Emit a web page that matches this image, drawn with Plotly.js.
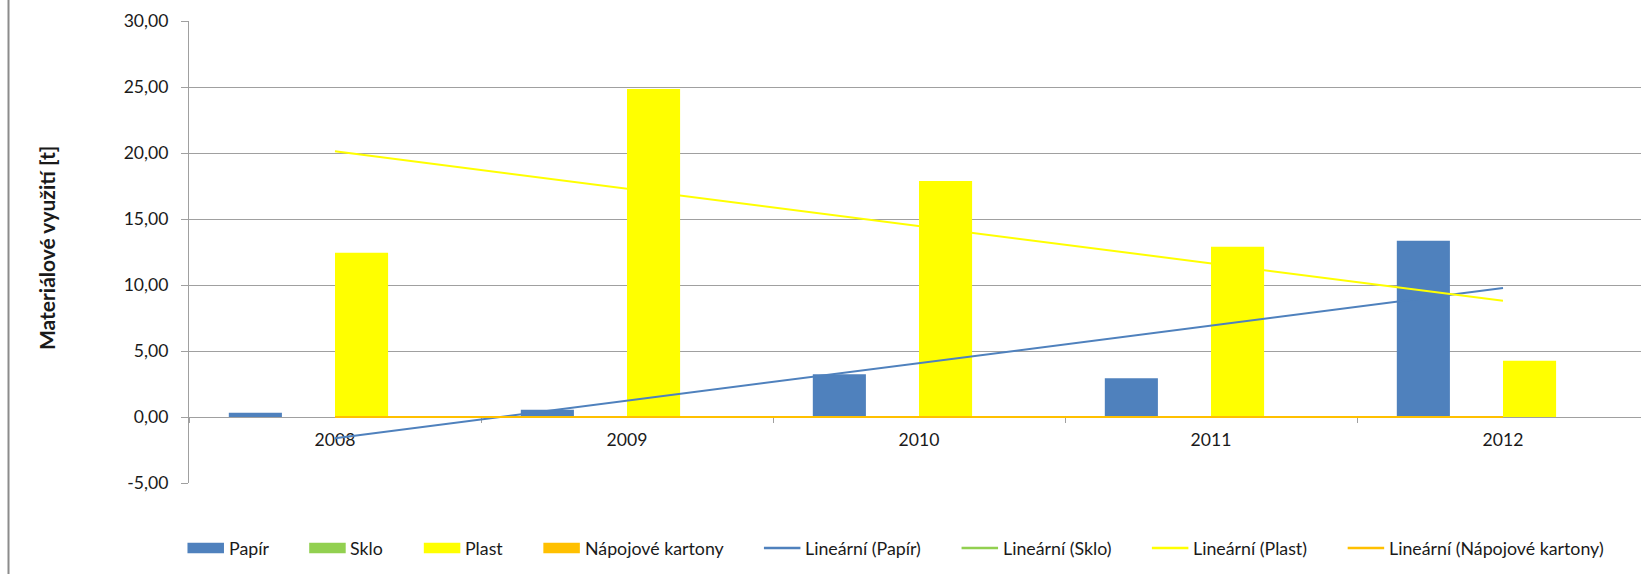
<!DOCTYPE html>
<html>
<head>
<meta charset="utf-8">
<script src="https://cdn.plot.ly/plotly-3.0.1.min.js"></script>
<style>
html, body { margin: 0; padding: 0; background: #ffffff; }
#chart { width: 1641px; height: 574px; }
</style>
</head>
<body>
<div id="chart"></div>
<script>
// ---- data ----
const years = ['2008', '2009', '2010', '2011', '2012'];
const papir = [0.33, 0.55, 3.24, 2.93, 13.36];
const sklo = [0, 0, 0, 0, 0];
const plast = [12.45, 24.85, 17.88, 12.90, 4.27];
const napojove = [0, 0, 0, 0, 0];

const seriesNames = ['Papír', 'Sklo', 'Plast', 'Nápojové kartony'];
const trendNames = ['Lineární (Papír)', 'Lineární (Sklo)', 'Lineární (Plast)', 'Lineární (Nápojové kartony)'];
const seriesColors = ['#4F81BD', '#92D050', '#FFFF00', '#FFC000'];

const yTickVals = [-5, 0, 5, 10, 15, 20, 25, 30];
const yTickText = ['-5,00', '0,00', '5,00', '10,00', '15,00', '20,00', '25,00', '30,00'];
const yTitle = 'Materiálové využití [t]';

// ---- linear trend (least squares, x = 1..n as in Excel) ----
function linearTrend(vals) {
  const n = vals.length;
  const xs = vals.map((_, i) => i + 1);
  const mx = xs.reduce((a, b) => a + b, 0) / n;
  const my = vals.reduce((a, b) => a + b, 0) / n;
  let sxy = 0, sxx = 0;
  for (let i = 0; i < n; i++) { sxy += (xs[i] - mx) * (vals[i] - my); sxx += (xs[i] - mx) * (xs[i] - mx); }
  const slope = sxx ? sxy / sxx : 0;
  const icpt = my - slope * mx;
  return xs.map(x => icpt + slope * x);
}

const allSeries = [papir, sklo, plast, napojove];

// ---- geometry ----
const W = 1641, H = 574, L = 189, R = 0, T = 21, B = 91;
const PW = W - L - R, PH = H - T - B;
const px2x = px => (px - L) / PW;
const py2y = py => (H - B - py) / PH;
const FONT = 'Lato, "Open Sans", sans-serif';
const TXT = '#1a1a1a';
const GRID = '#a0a0a0';
const TICK_SIZE = 17.6, LEG_SIZE = 17.8, TITLE_SIZE = 21;

const traces = [];
allSeries.forEach((vals, i) => {
  traces.push({
    type: 'bar', name: seriesNames[i], x: years, y: vals,
    marker: { color: seriesColors[i], line: { width: 0 } },
    hoverinfo: 'x+y+name'
  });
});
allSeries.forEach((vals, i) => {
  traces.push({
    type: 'scatter', mode: 'lines', name: trendNames[i], x: years, y: linearTrend(vals),
    line: { color: seriesColors[i], width: 2 },
    hoverinfo: 'skip'
  });
});

// ---- manual legend (Excel-like long swatches) ----
const shapes = [];
const annotations = [];
const ctx = document.createElement('canvas').getContext('2d');
ctx.font = LEG_SIZE + 'px Lato';
const items = seriesNames.map((n, i) => ({ name: n, color: seriesColors[i], kind: 'bar' }))
  .concat(trendNames.map((n, i) => ({ name: n, color: seriesColors[i], kind: 'line' })));
const swW = 36.5, swGap = 4.7, itemGap = 40.6, legY = 548, swH = 10.7;
const widths = items.map(it => ctx.measureText(it.name).width);
let total = 0;
widths.forEach((w, i) => { total += swW + swGap + w + (i < widths.length - 1 ? itemGap : 0); });
let cx = 895.5 - total / 2;
items.forEach((it, i) => {
  if (it.kind === 'bar') {
    shapes.push({ type: 'rect', xref: 'paper', yref: 'paper',
      x0: px2x(cx), x1: px2x(cx + swW), y0: py2y(legY + swH / 2), y1: py2y(legY - swH / 2),
      fillcolor: it.color, line: { width: 0 } });
  } else {
    shapes.push({ type: 'line', xref: 'paper', yref: 'paper',
      x0: px2x(cx), x1: px2x(cx + swW), y0: py2y(legY), y1: py2y(legY),
      line: { color: it.color, width: 2.5 } });
  }
  annotations.push({ xref: 'paper', yref: 'paper', x: px2x(cx + swW + swGap), y: py2y(legY),
    xanchor: 'left', yanchor: 'middle', showarrow: false, text: it.name,
    borderpad: 0, borderwidth: 0, font: { family: FONT, size: LEG_SIZE, color: TXT } });
  cx += swW + swGap + widths[i] + itemGap;
});

// y axis title
annotations.push({ xref: 'paper', yref: 'paper', x: px2x(47), y: py2y(248),
  xanchor: 'center', yanchor: 'middle', showarrow: false, textangle: -90, text: yTitle,
  font: { family: FONT, size: TITLE_SIZE, color: TXT, weight: 700 } });

// chart-area left border
shapes.push({ type: 'line', xref: 'paper', yref: 'paper', x0: px2x(8.5), x1: px2x(8.5),
  y0: py2y(H + 10), y1: py2y(-10), line: { color: '#8c8c8c', width: 2 } });

const layout = {
  width: W, height: H,
  margin: { l: L, r: R, t: T, b: B, pad: 0 },
  paper_bgcolor: '#ffffff', plot_bgcolor: '#ffffff',
  showlegend: false,
  barmode: 'group', bargap: 0.2727, bargroupgap: 0,
  font: { family: FONT, size: TICK_SIZE, color: TXT },
  xaxis: {
    type: 'category', categoryorder: 'array', categoryarray: years,
    range: [-0.5, 4.5 - 8 / 292.2],
    anchor: 'free', position: 5 / 35,
    showline: true, linecolor: GRID, linewidth: 1,
    ticks: 'outside', tickson: 'boundaries', ticklen: 5, tickcolor: GRID, tickwidth: 1,
    showgrid: false, zeroline: false,
    tickfont: { family: FONT, size: TICK_SIZE, color: TXT },
    ticklabelstandoff: 7,
    layer: 'below traces', fixedrange: true
  },
  yaxis: {
    range: [-5, 30],
    tickmode: 'array', tickvals: yTickVals, ticktext: yTickText,
    showgrid: true, gridcolor: GRID, gridwidth: 1,
    showline: true, linecolor: GRID, linewidth: 1,
    ticks: 'outside', ticklen: 7, tickcolor: GRID, tickwidth: 1,
    zeroline: false,
    tickfont: { family: FONT, size: TICK_SIZE, color: TXT },
    ticklabelstandoff: 9,
    layer: 'below traces', fixedrange: true
  },
  shapes: shapes,
  annotations: annotations
};

Plotly.newPlot('chart', traces, layout, { displayModeBar: false, staticPlot: true });
</script>
</body>
</html>
